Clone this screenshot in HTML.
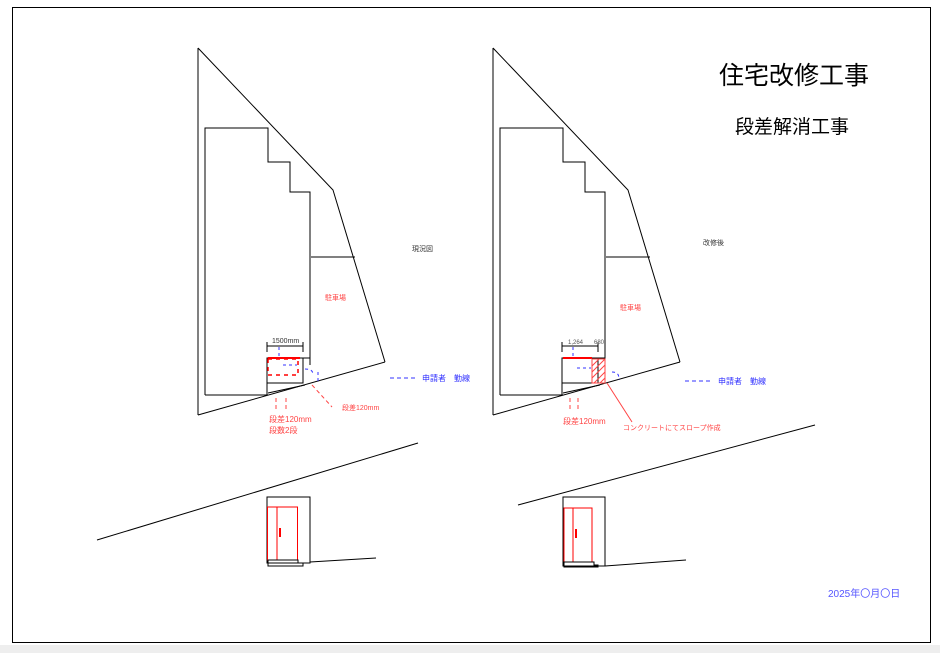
<!DOCTYPE html>
<html><head><meta charset="utf-8"><style>
html,body{margin:0;padding:0;background:#fff;width:940px;height:653px;overflow:hidden}
svg{display:block}
text{font-family:"Liberation Sans","Noto Sans CJK JP",sans-serif}
</style></head><body>
<svg width="940" height="653" viewBox="0 0 940 653" xmlns="http://www.w3.org/2000/svg">
<rect x="0" y="645" width="940" height="8" fill="#eee"/>
<rect x="12.5" y="7.5" width="918" height="635" fill="#fff" stroke="#000" stroke-width="1"/>
<defs>
<g id="plan" fill="none" stroke="#000" stroke-width="1">
<polyline points="198,48 333,190 385,362"/>
<line x1="198" y1="48" x2="198" y2="415"/>
<line x1="198" y1="415" x2="385" y2="362"/>
<polyline points="205,395 205,128 268,128 268,162 290,162 290,192 310,192 310,365"/>
<line x1="205" y1="395" x2="268" y2="395"/>
<line x1="311" y1="257" x2="355" y2="257"/>
<line x1="267" y1="346" x2="303" y2="346"/>
<line x1="267" y1="342" x2="267" y2="352"/>
<line x1="303" y1="342" x2="303" y2="352"/>
<rect x="267" y="358" width="36" height="25"/>
<line x1="267" y1="383" x2="267" y2="395"/>
<line x1="303" y1="358" x2="310" y2="358"/>
<line x1="268" y1="393" x2="305" y2="385"/>
</g>
</defs>
<use href="#plan"/>
<use href="#plan" x="295"/>
<line x1="268" y1="358" x2="300" y2="358" stroke="#f00" stroke-width="2"/>
<rect x="268" y="359" width="30" height="16" fill="none" stroke="#f00" stroke-width="1.5" stroke-dasharray="4,4"/>
<path d="M279 347v12M283 365h14M305 369c6 0 8 2 8 6M318 372v10" stroke="#33f" stroke-dasharray="3,3" fill="none"/>
<path d="M312 385l20 22M276 398v12M286 398v12" stroke="#f44" stroke-dasharray="4,3" fill="none"/>
<text x="272" y="343" font-size="7" fill="#333">1500mm</text>
<text x="342" y="410" font-size="7" fill="#f44">段差120mm</text>
<text x="269" y="422" font-size="8" fill="#f44">段差120mm</text>
<text x="269" y="433" font-size="8" fill="#f44">段数2段</text>
<text x="412" y="251" font-size="7" fill="#333">現況図</text>
<text x="325" y="300" font-size="7" fill="#f44">駐車場</text>
<path d="M390 378h25" stroke="#33f" stroke-dasharray="4,3"/>
<text x="422" y="381" font-size="8" fill="#33f">申請者　勤線</text>
<line x1="563" y1="358" x2="592" y2="358" stroke="#f00" stroke-width="2"/>
<rect x="592" y="359" width="13" height="24" fill="none" stroke="#f44"/>
<path d="M592 366l7-7M592 372l13-13M592 378l13-13M594 383l11-11M600 383l5-5" stroke="#f44" fill="none"/>
<path d="M573 347v10M577 368h14M612 372c6 0 7 3 7 8" stroke="#33f" stroke-dasharray="3,3" fill="none"/>
<path d="M570 398v12M578 398v12" stroke="#f44" stroke-dasharray="4,3" fill="none"/>
<line x1="607" y1="383" x2="632" y2="422" stroke="#f44"/>
<text x="568" y="344" font-size="6" fill="#555">1,264</text>
<text x="594" y="344" font-size="6" fill="#555">680</text>
<text x="563" y="424" font-size="8" fill="#f44">段差120mm</text>
<text x="623" y="430" font-size="7" fill="#f44">コンクリートにてスロープ作成</text>
<text x="703" y="245" font-size="7" fill="#333">改修後</text>
<text x="620" y="310" font-size="7" fill="#f44">駐車場</text>
<path d="M685 381h25" stroke="#33f" stroke-dasharray="4,3"/>
<text x="718" y="384" font-size="8" fill="#33f">申請者　勤線</text>
<text x="719" y="84" font-size="25" fill="#000">住宅改修工事</text>
<text x="735" y="133" font-size="19" fill="#000">段差解消工事</text>
<text x="828" y="597" font-size="10" fill="#55f">2025年〇月〇日</text>
<g fill="none" stroke="#000">
<line x1="97" y1="540" x2="418" y2="443"/>
<rect x="267" y="497" width="43" height="66"/>
<line x1="310" y1="562" x2="376" y2="558"/>
<line x1="518" y1="505" x2="815" y2="425"/>
<rect x="563" y="497" width="42" height="69"/>
<line x1="605" y1="566" x2="686" y2="560"/>
</g>
<g fill="none" stroke="#f00">
<rect x="267.5" y="507" width="30" height="53"/><line x1="277" y1="507" x2="277" y2="560"/>
<rect x="564" y="508" width="28" height="54"/><line x1="573" y1="508" x2="573" y2="562"/>
</g>
<rect x="279" y="528" width="2" height="9" fill="#f00"/>
<rect x="575" y="529" width="2" height="9" fill="#f00"/>
<path d="M268 560h30v3h5v3h-35zM564 562h30v3h4v2h-34z" fill="none" stroke="#000"/>
</svg>
</body></html>
